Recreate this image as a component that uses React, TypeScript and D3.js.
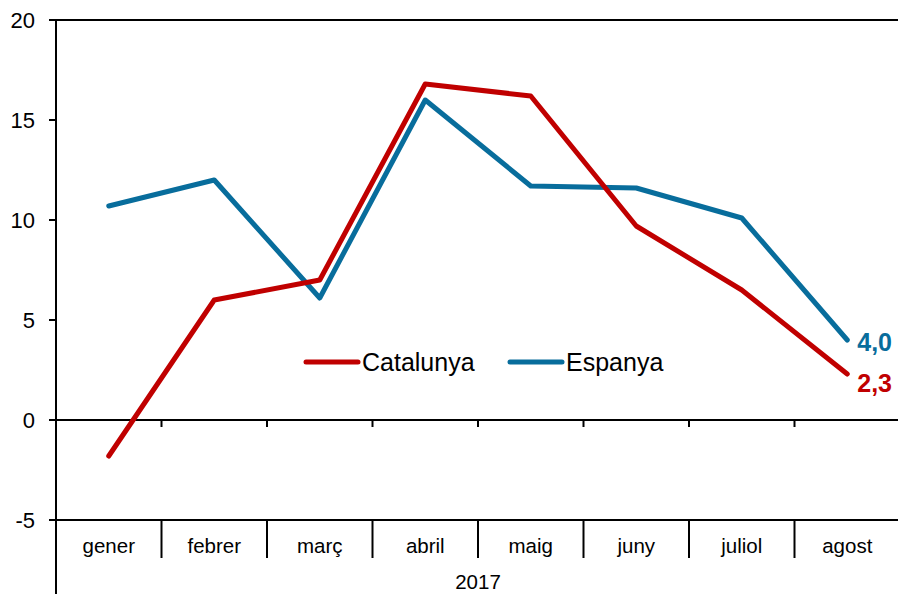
import { useEffect, useRef } from 'react';
import * as d3 from 'd3';

// Monthly values, 2017
const MONTHS = ['gener', 'febrer', 'març', 'abril', 'maig', 'juny', 'juliol', 'agost'];
const CATALUNYA = [-1.8, 6.0, 7.0, 16.8, 16.2, 9.7, 6.5, 2.3];
const ESPANYA = [10.7, 12.0, 6.1, 16.0, 11.7, 11.6, 10.1, 4.0];
const Y_TICKS = [-5, 0, 5, 10, 15, 20];
const YEAR = '2017';

const RED = '#c00000';
const BLUE = '#086d9c';

export default function App() {
  const svgRef = useRef<SVGSVGElement | null>(null);

  useEffect(() => {
    if (!svgRef.current) return;
    const svg = d3.select(svgRef.current);
    svg.selectAll('*').remove();

    const left = 56, right = 900, top = 20, bottom = 520;
    const font = 'Liberation Sans, Arial, sans-serif';

    const x = d3.scaleBand().domain(MONTHS).range([left, right]);
    const y = d3.scaleLinear().domain([-5, 20]).range([bottom, top]);
    const cx = (m: string) => (x(m) ?? 0) + x.bandwidth() / 2;

    // horizontal lines at top, zero and bottom
    [20, 0, -5].forEach(v => {
      svg.append('line')
        .attr('x1', left).attr('x2', right)
        .attr('y1', y(v)).attr('y2', y(v))
        .attr('stroke', '#000').attr('stroke-width', 2);
    });

    // y axis
    svg.append('line')
      .attr('x1', left).attr('x2', left)
      .attr('y1', top - 1).attr('y2', 594)
      .attr('stroke', '#000').attr('stroke-width', 2);

    svg.selectAll('line.ytick')
      .data(Y_TICKS)
      .join('line')
      .attr('class', 'ytick')
      .attr('x1', left - 7).attr('x2', left)
      .attr('y1', d => y(d)).attr('y2', d => y(d))
      .attr('stroke', '#000').attr('stroke-width', 2);

    svg.selectAll('text.ylab')
      .data(Y_TICKS)
      .join('text')
      .attr('class', 'ylab')
      .attr('x', 35)
      .attr('y', d => y(d))
      .attr('text-anchor', 'end')
      .attr('dominant-baseline', 'central')
      .attr('font-family', font)
      .attr('font-size', 22)
      .text(d => d);

    // category ticks on zero line and separators in label row
    const seps = MONTHS.slice(1).map(m => x(m) ?? 0);
    svg.selectAll('line.ztick')
      .data(seps)
      .join('line')
      .attr('class', 'ztick')
      .attr('x1', d => d).attr('x2', d => d)
      .attr('y1', y(0)).attr('y2', y(0) + 7)
      .attr('stroke', '#000').attr('stroke-width', 2);

    svg.selectAll('line.sep')
      .data(seps)
      .join('line')
      .attr('class', 'sep')
      .attr('x1', d => d).attr('x2', d => d)
      .attr('y1', bottom).attr('y2', bottom + 38)
      .attr('stroke', '#000').attr('stroke-width', 2);

    svg.selectAll('text.xlab')
      .data(MONTHS)
      .join('text')
      .attr('class', 'xlab')
      .attr('x', d => cx(d))
      .attr('y', 545)
      .attr('text-anchor', 'middle')
      .attr('dominant-baseline', 'central')
      .attr('font-family', font)
      .attr('font-size', 20.5)
      .text(d => d);

    svg.append('text')
      .attr('x', (left + right) / 2)
      .attr('y', 581)
      .attr('text-anchor', 'middle')
      .attr('dominant-baseline', 'central')
      .attr('font-family', font)
      .attr('font-size', 20.5)
      .text(YEAR);

    // series lines
    const line = d3.line<number>()
      .x((_, i) => cx(MONTHS[i]))
      .y(d => y(d));

    [[ESPANYA, BLUE], [CATALUNYA, RED]].forEach(([data, color]) => {
      svg.append('path')
        .attr('d', line(data as number[]))
        .attr('fill', 'none')
        .attr('stroke', color as string)
        .attr('stroke-width', 5)
        .attr('stroke-linecap', 'round')
        .attr('stroke-linejoin', 'round');
    });

    // end labels
    const last = MONTHS.length - 1;
    const fmt = (v: number) => v.toFixed(1).replace('.', ',');
    [[ESPANYA, BLUE, 2], [CATALUNYA, RED, 9]].forEach(([data, color, dy]) => {
      const v = (data as number[])[last];
      svg.append('text')
        .attr('x', cx(MONTHS[last]) + 10)
        .attr('y', y(v) + (dy as number))
        .attr('dominant-baseline', 'central')
        .attr('font-family', font)
        .attr('font-weight', 'bold')
        .attr('font-size', 25)
        .attr('fill', color as string)
        .text(fmt(v));
    });

    // legend
    const legend = [
      { name: 'Catalunya', color: RED, x0: 306 },
      { name: 'Espanya', color: BLUE, x0: 510 },
    ];
    legend.forEach(l => {
      svg.append('line')
        .attr('x1', l.x0).attr('x2', l.x0 + 52)
        .attr('y1', 362).attr('y2', 362)
        .attr('stroke', l.color).attr('stroke-width', 5)
        .attr('stroke-linecap', 'round');
      svg.append('text')
        .attr('x', l.x0 + 56)
        .attr('y', 362)
        .attr('dominant-baseline', 'central')
        .attr('font-family', font)
        .attr('font-size', 25)
        .text(l.name);
    });
  }, []);

  return (
    <svg
      ref={svgRef}
      width={898}
      height={594}
      style={{ position: 'absolute', left: 0, top: 0, background: '#fff' }}
    />
  );
}
